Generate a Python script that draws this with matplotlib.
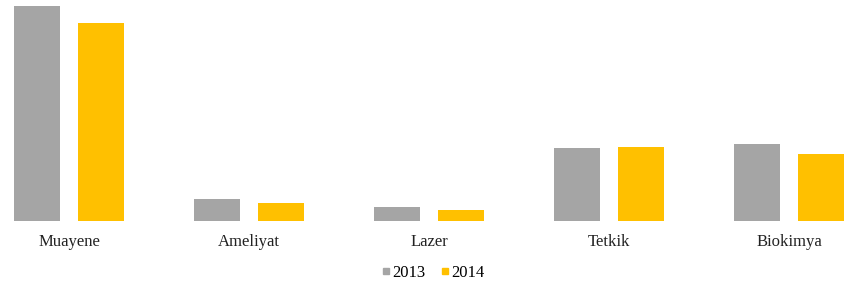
import numpy as np
import matplotlib.pyplot as plt
from matplotlib.lines import Line2D

categories = ['Muayene', 'Ameliyat', 'Lazer', 'Tetkik', 'Biokimya']
values_2013 = [215, 21.7, 14.3, 73.3, 77]
values_2014 = [198, 17.7, 11, 74.3, 67]

gray = '#a5a5a5'
gold = '#ffc000'

fig = plt.figure(figsize=(8.44, 2.93), dpi=100)
ax = fig.add_axes([0, 1 - 221 / 293, 1, 221 / 293])

x = np.arange(len(categories))
w = 46 / 180
off = (46 + 18) / 2 / 180
ax.bar(x - off, values_2013, w, color=gray)
ax.bar(x + off, values_2014, w, color=gold)

ax.set_xlim(-69 / 180, (844 - 69) / 180)
ax.set_ylim(0, 221)
ax.set_yticks([])
ax.set_xticks(x)
ax.set_xticklabels(categories, fontsize=12, family='Liberation Serif', color='#222222')
ax.tick_params(axis='x', length=0, pad=9)
for s in ax.spines.values():
    s.set_visible(False)

handles = [Line2D([], [], marker='s', ls='', color=gray, markersize=4.5),
           Line2D([], [], marker='s', ls='', color=gold, markersize=4.5)]
fig.legend(handles, ['2013', '2014'], loc='center', bbox_to_anchor=(433 / 844, 1 - 273 / 293),
           ncol=2, frameon=False, prop={'family': 'Liberation Serif', 'size': 12},
           handletextpad=0.05, columnspacing=0.9, handlelength=0.6)

fig.savefig('out.png', dpi=100)
